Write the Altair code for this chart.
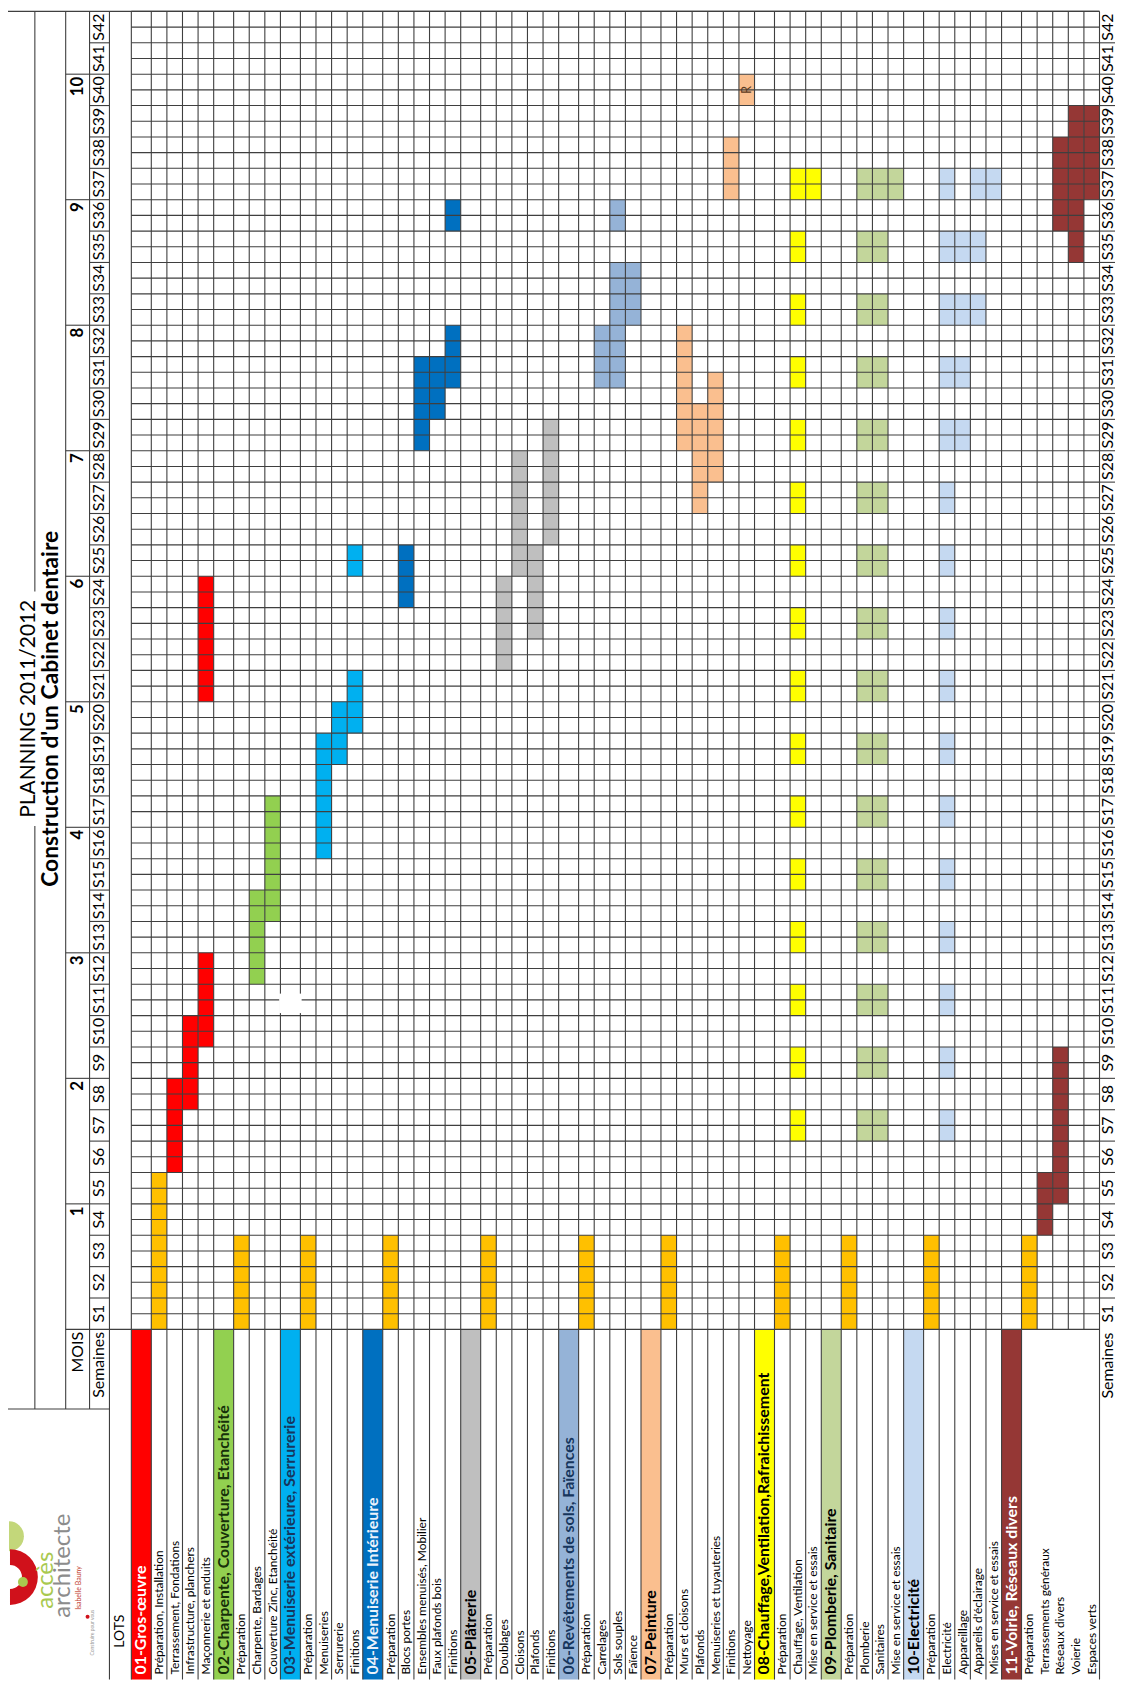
import altair as alt
import pandas as pd

# ---------------- data ----------------
lots = ["01-Gros-œuvre", "02-Charpente, Couverture, Etanchéité",
        "03-Menuiserie extérieure, Serrurerie", "04-Menuiserie Intérieure",
        "05-Plâtrerie", "06-Revêtements de sols, Faïences", "07-Peinture",
        "08-Chauffage,Ventilation,Rafraichissement", "09-Plomberie, Sanitaire",
        "10-Electricité", "11-Voirie, Réseaux divers"]
lot_colors = ["#FF0000", "#92D050", "#00B0F0", "#0070C0", "#BFBFBF", "#95B3D7",
              "#FABF8F", "#FFFF00", "#C3D69B", "#C5D9F1", "#953735"]
lot_text_colors = ["#FFFFFF", "#17300A", "#17365D", "#EAF2FB", "#000000", "#17365D",
                   "#000000", "#000000", "#000000", "#000000", "#FFFFFF"]
prep_color = "#FFC000"

tasks = [
    ["Préparation, Installation", "Terrassement, Fondations", "Infrastructure, planchers",
     "Maçonnerie et enduits"],
    ["Préparation", "Charpente, Bardages", "Couverture Zinc, Etanchéité"],
    ["Préparation", "Menuiseries", "Serrurerie", "Finitions"],
    ["Préparation", "Blocs portes", "Ensembles menuisés, Mobilier", "Faux plafonds bois", "Finitions"],
    ["Préparation", "Doublages", "Cloisons", "Plafonds", "Finitions"],
    ["Préparation", "Carrelages", "Sols souples", "Faïence"],
    ["Préparation", "Murs et cloisons", "Plafonds", "Menuiseries et tuyauteries", "Finitions",
     "Nettoyage"],
    ["Préparation", "Chauffage, Ventilation", "Mise en service et essais"],
    ["Préparation", "Plomberie", "Sanitaires", "Mise en service et essais"],
    ["Préparation", "Electricité", "Appareillage", "Appareils d'éclairage",
     "Mises en service et essais"],
    ["Préparation", "Terrassements généraux", "Réseaux divers", "Voierie", "Espaces verts"],
]

# weeks on site for the recurring interventions (S7, S9 ... S37)
site_weeks = [7, 9, 11, 13, 15, 17, 19, 21, 23, 25, 27, 29, 31, 33, 35, 37]
recurring = [(w, 1) for w in site_weeks]

# (first week, duration in weeks) for each task
plans = [
    [[(1, 5)], [(6, 3)], [(8, 3)], [(10, 3), (21, 4)]],
    [[(1, 3)], [(12, 3)], [(14, 4)]],
    [[(1, 3)], [(16, 4)], [(19, 2)], [(20, 2), (25, 1)]],
    [[(1, 3)], [(24, 2)], [(29, 3)], [(30, 2)], [(31, 2), (36, 1)]],
    [[(1, 3)], [(22, 3)], [(25, 4)], [(23, 3)], [(26, 4)]],
    [[(1, 3)], [(31, 2)], [(31, 4), (36, 1)], [(33, 2)]],
    [[(1, 3)], [(29, 4)], [(27, 3.5)], [(28, 3.5)], [(37, 2)], [(40, 1)]],
    [[(1, 3)], recurring, [(37, 1)]],
    [[(1, 3)], recurring, recurring, [(37, 1)]],
    [[(1, 3)], recurring, [(29, 1), (31, 1), (33, 1), (35, 1)], [(33, 1), (35, 1), (37, 1)],
     [(37, 1)]],
    [[(1, 3)], [(4, 2)], [(5, 5), (36, 3)], [(35, 5)], [(37, 3)]],
]
marked = [("Nettoyage", 40, "R")]

week_labels = ["S%d" % i for i in range(1, 43)]
month_labels = ["1", "2", "3", "4", "5", "6", "7", "8", "9", "10"]
month_last_week = [4, 8, 12, 16, 20, 24, 28, 32, 36, 40]
n_weeks = 42

# ---------------- layout helpers (page pixels -> scale units) ----------------
PXU = 15.68   # px per task row
PXW = 31.55   # px per week
GX0, GY0 = 132, 1332


def U(px):
    return (px - GX0) / PXU


def W(py):
    return (GY0 - py) / PXW


HW = 1.28  # header row width in task units
XMIN, XMAX = U(8), U(8) + 1114 / PXU
YMAX = W(8)
YMIN = YMAX - 1676 / PXW
xs = alt.Scale(domain=[XMIN, XMAX], nice=False, zero=False)
ys = alt.Scale(domain=[YMIN, YMAX], nice=False, zero=False)

rows = []
u = 0.0
for i, lot in enumerate(lots):
    rows.append(dict(kind="header", label=lot, x0=u, x1=u + HW, lot=i, t=-1))
    u += HW
    for j, t in enumerate(tasks[i]):
        rows.append(dict(kind="task", label=t, x0=u, x1=u + 1, lot=i, t=j))
        u += 1
GRID_R = u

cells = []
for r in rows:
    if r["kind"] != "task":
        continue
    i, j = r["lot"], r["t"]
    col = prep_color if j == 0 else lot_colors[i]
    for (s, d) in plans[i][j]:
        cells.append(dict(x=r["x0"], x2=r["x1"], y=s - 1, y2=s - 1 + d, c=col))
for r in rows:
    if r["kind"] == "header":
        cells.append(dict(x=r["x0"], x2=r["x1"], y=YMIN, y2=0, c=lot_colors[r["lot"]]))
cells_df = pd.DataFrame(cells)

# ---------------- rules ----------------
GRID_C = "#3F3F3F"
rules = []


def rule(x, x2, y, y2, c=GRID_C, sw=1.1):
    rules.append(dict(x=x, x2=x2, y=y, y2=y2, c=c, sw=sw))


for k in range(0, 2 * n_weeks + 1):
    rule(0, GRID_R, k / 2, k / 2)
lot11_start = [r for r in rows if r["kind"] == "header"][-1]["x1"]
bounds = sorted(set([r["x0"] for r in rows] + [GRID_R]))
for b in bounds:
    in_lot11 = lot11_start + 0.01 < b < GRID_R - 0.01
    rule(b, b, n_weeks, 0 if in_lot11 else YMIN)
rule(U(8), GRID_R, n_weeks, n_weeks)
rule(U(66), 0, 0, 0)
for m in month_last_week:
    rule(U(66), U(90), m, m)
for k in range(1, n_weeks):
    rule(U(90), U(110), k, k)
    rule(GRID_R, U(1121), k, k)
rule(U(35), U(35), n_weeks, W(590))
rule(U(35), U(35), W(826), W(1412))
rule(U(66), U(66), n_weeks, W(1412))
rule(U(90), U(90), n_weeks, W(1412))
rule(U(110), U(110), n_weeks, YMIN)
rule(U(8), U(110), W(1412), W(1412))
rules_df = pd.DataFrame(rules)

hdr03 = [r for r in rows if r["kind"] == "header"][2]
patch_df = pd.DataFrame([dict(x=hdr03["x0"] - 0.08, x2=hdr03["x1"] + 0.08, y=10.08, y2=10.7,
                              c="#FFFFFF")])

# ---------------- texts ----------------
LAB_Y = W(1679)
task_txt = pd.DataFrame([dict(x=(r["x0"] + r["x1"]) / 2, y=LAB_Y, text=r["label"], c="#000000")
                         for r in rows if r["kind"] == "task"])
head_txt = pd.DataFrame([dict(x=(r["x0"] + r["x1"]) / 2, y=LAB_Y, text=r["label"],
                              c=lot_text_colors[r["lot"]])
                         for r in rows if r["kind"] == "header"])
wk_left = pd.DataFrame([dict(x=U(100), y=k + 0.5, text=week_labels[k]) for k in range(n_weeks)])
wk_right = pd.DataFrame([dict(x=U(1113.5), y=k + 0.5, text=week_labels[k]) for k in range(n_weeks)])
month_txt = pd.DataFrame([dict(x=U(78), y=m - 0.08, text=t)
                          for m, t in zip(month_last_week, month_labels)])
top_right_txt = pd.DataFrame([dict(x=U(78), y=-0.08, text="MOIS"),
                              dict(x=U(100), y=-0.08, text="Semaines"),
                              dict(x=U(1113.5), y=-0.1, text="Semaines")])
r_rows = {r["label"]: r for r in rows if r["kind"] == "task"}
mark_txt = pd.DataFrame([dict(x=(r_rows[n]["x0"] + r_rows[n]["x1"]) / 2, y=w - 0.5, text=t)
                         for n, w, t in marked])
title_sub = pd.DataFrame([dict(x=U(29), y=W(708), text="PLANNING 2011/2012")])
title_main = pd.DataFrame([dict(x=U(51), y=W(708), text="Construction d'un Cabinet dentaire")])
lots_txt = pd.DataFrame([dict(x=U(121), y=W(1652), text="LOTS")])

logo_txt = pd.DataFrame([
    dict(x=U(46), y=W(1613), text="accès", c="#A9C94F", s=24),
    dict(x=U(63), y=W(1622), text="architecte", c="#8C8C8C", s=24),
])
logo_small = pd.DataFrame([
    dict(x=U(79), y=W(1570), text="Isabelle Bauny", c="#C0392B", s=7),
    dict(x=U(92), y=W(1614), text="Construire pour vous", c="#9A9A9A", s=5),
])
logo_arcs = pd.DataFrame([
    dict(x=U(9), y=W(1540), r=0, r2=15, t=0.0, t2=3.1416, c="#C3D77A"),
    dict(x=U(10), y=W(1581), r=12, r2=28, t=0.0, t2=3.1416, c="#D0111B"),
    dict(x=U(23), y=W(1586), r=0, r2=5, t=0.0, t2=6.2832, c="#A9C94F"),
    dict(x=U(88), y=W(1621), r=0, r2=2, t=0.0, t2=6.2832, c="#D0111B"),
])

FONT = "Lato"


def X(f="x"):
    return alt.X(f + ":Q", scale=xs, axis=None)


def Y(f="y"):
    return alt.Y(f + ":Q", scale=ys, axis=None)


def text_layer(df, size, align="center", bold=False, color="#000000", angle=270, font=FONT):
    enc = dict(x=X(), y=Y(), text="text:N")
    if "c" in df.columns:
        enc["color"] = alt.Color("c:N", scale=None)
    else:
        enc["color"] = alt.value(color)
    if "s" in df.columns:
        enc["size"] = alt.Size("s:Q", scale=None)
    return alt.Chart(df).mark_text(angle=angle, align=align, baseline="middle", font=font,
                                   fontSize=size, fontWeight="bold" if bold else "normal"
                                   ).encode(**enc)


fills = alt.Chart(cells_df).mark_rect(strokeWidth=0).encode(
    x=X(), x2="x2:Q", y=Y(), y2="y2:Q", color=alt.Color("c:N", scale=None))
lines = alt.Chart(rules_df).mark_rule().encode(
    x=X(), x2="x2:Q", y=Y(), y2="y2:Q", color=alt.Color("c:N", scale=None),
    strokeWidth=alt.StrokeWidth("sw:Q", scale=None))
patch = alt.Chart(patch_df).mark_rect(strokeWidth=0).encode(
    x=X(), x2="x2:Q", y=Y(), y2="y2:Q", color=alt.Color("c:N", scale=None))
arcs = alt.Chart(logo_arcs).mark_arc().encode(
    x=X(), y=Y(), radius=alt.Radius("r2:Q", scale=None), radius2=alt.Radius2("r:Q"),
    theta=alt.Theta("t:Q", scale=None), theta2=alt.Theta2("t2:Q"),
    color=alt.Color("c:N", scale=None))

chart = alt.layer(
    fills, lines, patch, arcs,
    text_layer(task_txt, 12, align="left"),
    text_layer(head_txt, 16, align="left", bold=True),
    text_layer(wk_left, 16),
    text_layer(wk_right, 16),
    text_layer(month_txt, 17, align="right", bold=True),
    text_layer(top_right_txt, 16, align="right"),
    text_layer(mark_txt, 13, color="#5A3A22"),
    text_layer(title_sub, 21),
    text_layer(title_main, 23, bold=True),
    text_layer(lots_txt, 14, align="left"),
    text_layer(logo_txt, 24, align="left"),
    text_layer(logo_small, 7, align="right"),
).properties(
    width=1114, height=1676, padding=0,
    autosize=alt.AutoSizeParams(type="none")
).configure_view(stroke=None)

chart.save("out.html", embed_options={"renderer": "svg", "actions": False})
